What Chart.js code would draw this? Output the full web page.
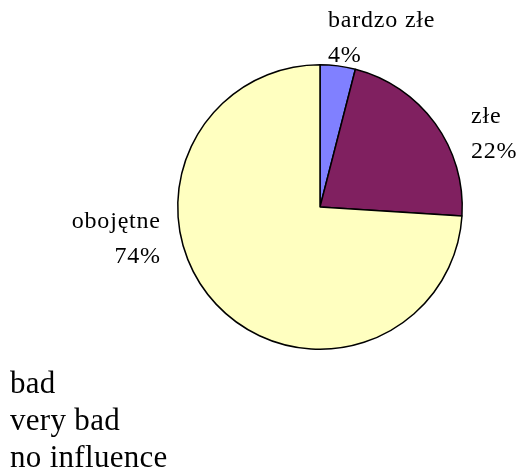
<!DOCTYPE html>
<html>
<head>
<meta charset="utf-8">
<script src="https://cdn.jsdelivr.net/npm/chart.js@4"></script>
<style>
  html, body { margin:0; padding:0; background:#fff; }
  #wrap { position:relative; width:517px; height:472px; }
  #legend {
    position:absolute; left:10px; top:364px;
    font-family:"Liberation Serif", serif; font-size:31px; line-height:37px; color:#000;
    letter-spacing:0.3px;
  }
</style>
</head>
<body>
<div id="wrap">
  <canvas id="pie" width="517" height="472"></canvas>
  <div id="legend"></div>
</div>
<script>
// ===== DATA =====
const categories = ['bardzo złe', 'złe', 'obojętne'];
const values = [4, 22, 74];
const legendLabels = ['bad', 'very bad', 'no influence'];
const colors = ['#8080ff', '#802060', '#ffffc0'];

// label anchor offsets from pie centre (px), per slice
const labelPos = [
  { dx: 8,    dy: -180, align: 'left'  },
  { dx: 151,  dy: -84,  align: 'left'  },
  { dx: -160, dy: 21,   align: 'right' }
];

// ===== LABEL PLUGIN =====
const sliceLabels = {
  id: 'sliceLabels',
  afterDatasetsDraw(chart){
    const ctx = chart.ctx;
    const meta = chart.getDatasetMeta(0);
    ctx.save();
    ctx.font = '24px "Liberation Serif", serif';
    ctx.letterSpacing = '0.8px';
    ctx.fillStyle = '#000';
    ctx.textBaseline = 'alphabetic';
    meta.data.forEach((arc, i) => {
      const p = labelPos[i];
      // trailing letter spacing shifts right-aligned text
      const x = arc.x + p.dx + (p.align === 'right' ? 0.8 : 0);
      const y = arc.y + p.dy;
      ctx.textAlign = p.align;
      ctx.fillText(categories[i], x, y);
      ctx.fillText(values[i] + '%', x, y + 35);
    });
    ctx.restore();
  }
};

// ===== CHART =====
new Chart(document.getElementById('pie'), {
  type: 'pie',
  data: {
    labels: categories,
    datasets: [{
      data: values,
      backgroundColor: colors,
      borderColor: '#000',
      borderWidth: 1.5
    }]
  },
  options: {
    responsive: false,
    animation: false,
    layout: { padding: { left: 177, right: 54, top: 64, bottom: 122 } },
    plugins: {
      legend: { display: false },
      tooltip: { enabled: false }
    }
  },
  plugins: [sliceLabels]
});

// ===== LEGEND TEXT =====
document.getElementById('legend').innerHTML = legendLabels.map(t => `<div>${t}</div>`).join('');
</script>
</body>
</html>
